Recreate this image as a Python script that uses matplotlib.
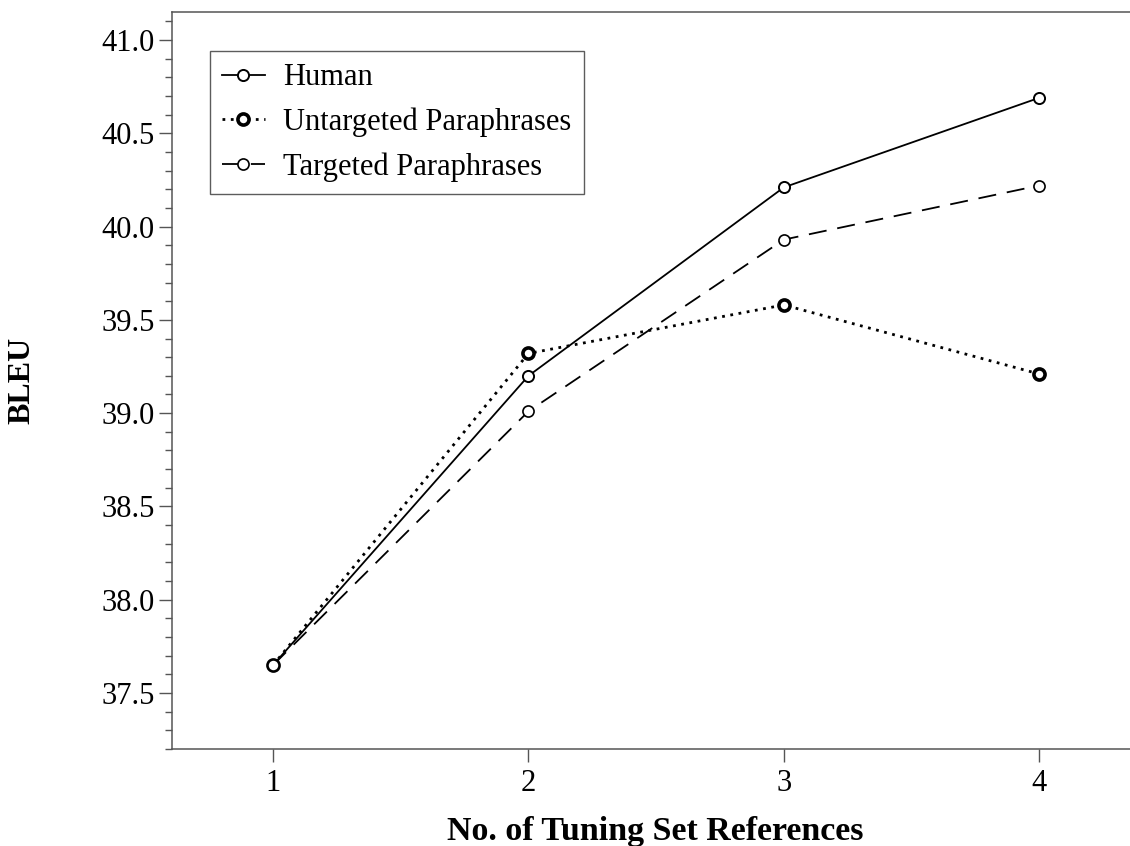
import matplotlib
matplotlib.use("Agg")
import matplotlib.pyplot as plt
from matplotlib.ticker import MultipleLocator, FormatStrFormatter

refs = [1, 2, 3, 4]
human = [37.65, 39.20, 40.21, 40.69]
untargeted = [37.65, 39.32, 39.58, 39.21]
targeted = [37.65, 39.01, 39.93, 40.22]

plt.rcParams['font.family'] = ['Liberation Serif', 'DejaVu Serif']

fig = plt.figure(figsize=(11.3, 8.46), dpi=100)
ax = fig.add_axes([172 / 1130, 1 - 749 / 846, 1 - 172 / 1130 + 0.01, (749 - 12) / 846])

ax.plot(refs, human, '-', color='black', lw=1.3, marker='o', ms=8,
        mfc='white', mec='black', mew=1.4, label='Human')
ax.plot(refs, untargeted, color='black', lw=2.0, ls=(0, (1, 2)), marker='o', ms=8,
        mfc='white', mec='black', mew=2.6, label='Untargeted Paraphrases')
ax.plot(refs, targeted, color='black', lw=1.3, ls=(0, (10, 6)), marker='o', ms=8,
        mfc='white', mec='black', mew=1.2, label='Targeted Paraphrases')

ax.set_xlim(0.604, 4.40)
ax.set_ylim(37.2, 41.15)
ax.set_xticks(refs)
ax.yaxis.set_major_locator(MultipleLocator(0.5))
ax.yaxis.set_minor_locator(MultipleLocator(0.1))
ax.yaxis.set_major_formatter(FormatStrFormatter('%.1f'))

for s in ['left', 'top', 'bottom']:
    ax.spines[s].set_color('#555555')
    ax.spines[s].set_linewidth(1.1)
ax.spines['right'].set_visible(False)

ax.tick_params(which='major', length=9.5, width=1.0, color='#555555', labelsize=22, pad=3)
ax.tick_params(axis='x', which='major', pad=5)
ax.tick_params(which='minor', length=5, width=1.0, color='#555555')
ax.tick_params(axis='x', which='minor', bottom=False)

ax.set_xlabel('No. of Tuning Set References', fontsize=24.5, fontweight='bold')
ax.set_ylabel('BLEU', fontsize=23, fontweight='bold')
ax.xaxis.set_label_coords(0.4985, -0.1235)
ax.yaxis.set_label_coords(-0.155, 0.5)
ax.xaxis.label.set_va('baseline')
ax.yaxis.label.set_va('center')

leg = ax.legend(loc='upper left', bbox_to_anchor=(0.039, 0.947), fontsize=22, frameon=True,
                fancybox=False, edgecolor='#333333', handlelength=1.4, handletextpad=0.6,
                borderpad=0.4, labelspacing=0.5, borderaxespad=0)
leg.get_frame().set_linewidth(1.0)

fig.savefig('out.png', dpi=100)
